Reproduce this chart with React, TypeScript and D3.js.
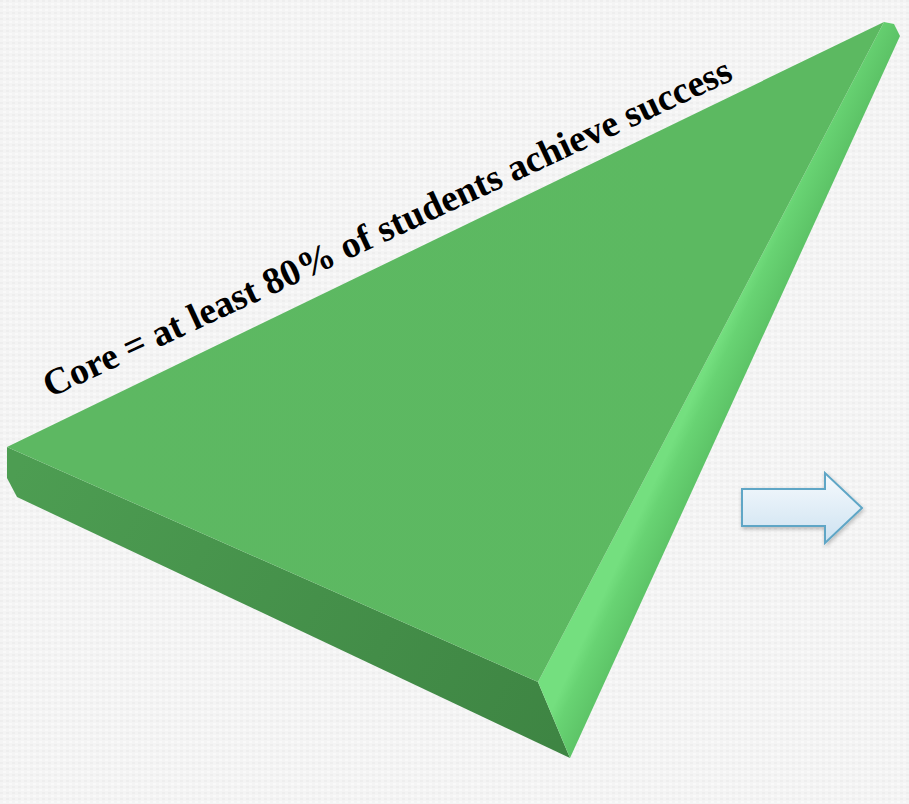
import React from "react";
import * as d3 from "d3";

// Diagram content
const titleText = "Core = at least 80% of students achieve success";

// Shape vertices (pyramid slab faces)
const topFace: [number, number][] = [[7, 447], [884, 22], [538, 682]];
const sideFace: [number, number][] = [[7, 447], [538, 682], [570, 758], [17, 497], [7, 478]];
const bevelFace: [number, number][] = [[884, 22], [894, 24], [900, 36], [570, 758], [538, 682]];
const arrowShape: [number, number][] = [[742, 489], [825, 489], [825, 473], [862, 508], [825, 543], [825, 526], [742, 526]];

const W = 909;
const H = 804;

export default function App() {
  const line = d3.line<[number, number]>().curve(d3.curveLinearClosed);
  const rot = (Math.atan2(398 - 80, 733 - 50) * 180) / Math.PI;
  return (
    <svg
      width={W}
      height={H}
      viewBox={`0 0 ${W} ${H}`}
      style={{ position: "absolute", left: 0, top: 0, display: "block" }}
    >
      <defs>
        <pattern id="tex" width="6" height="6" patternUnits="userSpaceOnUse">
          <rect width="6" height="6" fill="#f4f4f4" />
          <rect x="0" y="0" width="3" height="2" fill="#eeeeee" />
          <rect x="3" y="3" width="3" height="2" fill="#f9f9f9" />
        </pattern>
        <linearGradient id="sideG" gradientUnits="userSpaceOnUse" x1="20" y1="460" x2="560" y2="740">
          <stop offset="0" stopColor="#4d9d52" />
          <stop offset="1" stopColor="#3e8543" />
        </linearGradient>
        <linearGradient id="bevelG" gradientUnits="userSpaceOnUse" x1="714" y1="350" x2="776" y2="378">
          <stop offset="0" stopColor="#74df7f" />
          <stop offset="0.18" stopColor="#68d373" />
          <stop offset="1" stopColor="#50b259" />
        </linearGradient>
        <linearGradient id="topG" gradientUnits="userSpaceOnUse" x1="100" y1="400" x2="700" y2="300">
          <stop offset="0" stopColor="#5db862" />
          <stop offset="1" stopColor="#5cb961" />
        </linearGradient>
        <linearGradient id="arrowG" x1="0" y1="0" x2="0" y2="1">
          <stop offset="0" stopColor="#f6fafd" />
          <stop offset="1" stopColor="#cde2f1" />
        </linearGradient>
        <filter id="shadow" x="-20%" y="-20%" width="140%" height="140%">
          <feGaussianBlur in="SourceAlpha" stdDeviation="2" />
          <feOffset dx="1" dy="2" result="b" />
          <feComponentTransfer>
            <feFuncA type="linear" slope="0.25" />
          </feComponentTransfer>
          <feMerge>
            <feMergeNode />
            <feMergeNode in="SourceGraphic" />
          </feMerge>
        </filter>
      </defs>
      <rect width={W} height={H} fill="url(#tex)" />
      <g>
        <path d={line(sideFace) ?? ""} fill="url(#sideG)" />
        <path d={line(bevelFace) ?? ""} fill="url(#bevelG)" />
        <path d={line(topFace) ?? ""} fill="url(#topG)" />
      </g>
      <text
        transform={`translate(50,398) rotate(${-rot})`}
        fontFamily="'Liberation Serif', 'Times New Roman', serif"
        fontWeight="bold"
        fontSize={37.5}
        fill="#000"
        textLength={755}
        lengthAdjust="spacingAndGlyphs"
      >
        {titleText}
      </text>
      <path
        d={line(arrowShape) ?? ""}
        fill="url(#arrowG)"
        stroke="#5ea6c6"
        strokeWidth={2}
        strokeLinejoin="miter"
        filter="url(#shadow)"
      />
    </svg>
  );
}
